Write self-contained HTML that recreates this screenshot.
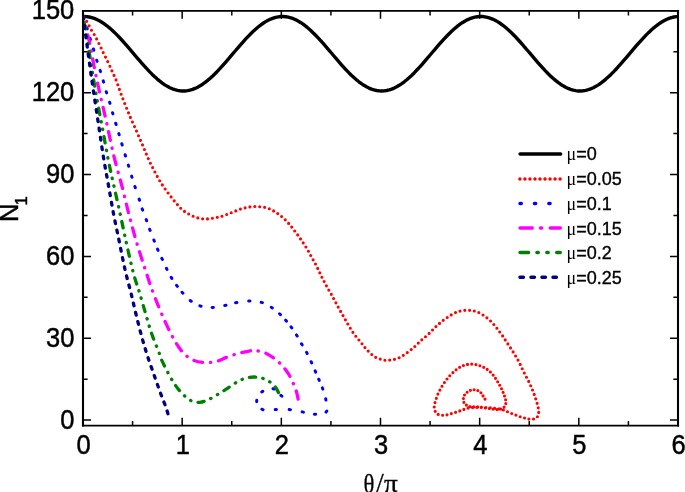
<!DOCTYPE html>
<html><head><meta charset="utf-8"><title>N1 vs theta</title>
<style>html,body{margin:0;padding:0;background:#fff}svg{display:block}text{font-family:"Liberation Sans",sans-serif;fill:#000}.s{font-family:"Liberation Serif",serif}</style></head><body>
<svg width="685" height="492" viewBox="0 0 685 492">
<rect width="685" height="492" fill="#fff"/>
<defs><clipPath id="c"><rect x="82.60" y="10.80" width="595.80" height="414.90"/></clipPath></defs>
<g fill="none" stroke-linejoin="round" clip-path="url(#c)">
<path d="M79.14 16.96L81.66 16.61L84.18 16.50L86.70 16.63L89.22 16.99L91.74 17.59L94.26 18.41L96.79 19.47L99.31 20.74L101.83 22.22L104.35 23.90L106.87 25.78L109.39 27.83L111.91 30.04L114.43 32.41L116.95 34.91L119.47 37.54L121.99 40.26L124.51 43.08L127.03 45.96L129.55 48.89L132.07 51.85L134.59 54.82L137.11 57.79L139.63 60.73L142.15 63.63L144.67 66.46L147.19 69.21L149.72 71.87L152.24 74.40L154.76 76.81L157.28 79.07L159.80 81.17L162.32 83.09L164.84 84.83L167.36 86.37L169.88 87.70L172.40 88.81L174.92 89.71L177.44 90.37L179.96 90.80L182.48 90.99L185.00 90.94L187.52 90.66L190.04 90.14L192.56 89.40L195.08 88.42L197.60 87.22L200.12 85.81L202.65 84.20L205.17 82.39L207.69 80.40L210.21 78.24L212.73 75.92L215.25 73.46L217.77 70.88L220.29 68.18L222.81 65.40L225.33 62.54L227.85 59.63L230.37 56.67L232.89 53.70L235.41 50.73L237.93 47.78L240.45 44.86L242.97 42.01L245.49 39.23L248.01 36.54L250.53 33.96L253.06 31.50L255.58 29.19L258.10 27.03L260.62 25.05L263.14 23.25L265.66 21.64L268.18 20.23L270.70 19.04L273.22 18.08L275.74 17.33L278.26 16.83L280.78 16.55L283.30 16.51L285.82 16.71L288.34 17.15L290.86 17.82L293.38 18.72L295.90 19.84L298.42 21.18L300.94 22.72L303.46 24.47L305.99 26.40L308.51 28.50L311.03 30.77L313.55 33.18L316.07 35.72L318.59 38.38L321.11 41.13L323.63 43.97L326.15 46.87L328.67 49.81L331.19 52.77L333.71 55.75L336.23 58.71L338.75 61.64L341.27 64.52L343.79 67.33L346.31 70.05L348.83 72.67L351.35 75.17L353.87 77.53L356.40 79.74L358.92 81.79L361.44 83.65L363.96 85.33L366.48 86.81L369.00 88.07L371.52 89.12L374.04 89.94L376.56 90.53L379.08 90.88L381.60 91.00L384.12 90.88L386.64 90.53L389.16 89.94L391.68 89.12L394.20 88.07L396.72 86.81L399.24 85.33L401.76 83.65L404.28 81.79L406.80 79.74L409.33 77.53L411.85 75.17L414.37 72.67L416.89 70.05L419.41 67.33L421.93 64.52L424.45 61.64L426.97 58.71L429.49 55.75L432.01 52.77L434.53 49.81L437.05 46.87L439.57 43.97L442.09 41.13L444.61 38.38L447.13 35.72L449.65 33.18L452.17 30.77L454.69 28.50L457.21 26.40L459.74 24.47L462.26 22.72L464.78 21.18L467.30 19.84L469.82 18.72L472.34 17.82L474.86 17.15L477.38 16.71L479.90 16.51L482.42 16.55L484.94 16.83L487.46 17.33L489.98 18.08L492.50 19.04L495.02 20.23L497.54 21.64L500.06 23.25L502.58 25.05L505.10 27.03L507.62 29.19L510.14 31.50L512.67 33.96L515.19 36.54L517.71 39.23L520.23 42.01L522.75 44.86L525.27 47.78L527.79 50.73L530.31 53.70L532.83 56.67L535.35 59.63L537.87 62.54L540.39 65.40L542.91 68.18L545.43 70.88L547.95 73.46L550.47 75.92L552.99 78.24L555.51 80.40L558.03 82.39L560.55 84.20L563.07 85.81L565.60 87.22L568.12 88.42L570.64 89.40L573.16 90.14L575.68 90.66L578.20 90.94L580.72 90.99L583.24 90.80L585.76 90.37L588.28 89.71L590.80 88.81L593.32 87.70L595.84 86.37L598.36 84.83L600.88 83.09L603.40 81.17L605.92 79.07L608.44 76.81L610.96 74.40L613.48 71.87L616.01 69.21L618.53 66.46L621.05 63.63L623.57 60.73L626.09 57.79L628.61 54.82L631.13 51.85L633.65 48.89L636.17 45.96L638.69 43.08L641.21 40.26L643.73 37.54L646.25 34.91L648.77 32.41L651.29 30.04L653.81 27.83L656.33 25.78L658.85 23.90L661.37 22.22L663.89 20.74L666.41 19.47L668.94 18.41L671.46 17.59L673.98 16.99L676.50 16.63L679.02 16.50L681.54 16.61L684.06 16.96" stroke="#000" stroke-width="3.4"/>
<path d="M83.7 17.2h.01M86.7 21.3h.01M89.1 25.8h.01M91.5 30.2h.01M94.2 34.5h.01M96.6 38.9h.01M98.9 43.5h.01M101.1 48.0h.01M103.2 52.6h.01M105.5 57.1h.01M107.7 61.6h.01M109.9 66.2h.01M111.9 70.8h.01M114.0 75.4h.01M116.0 79.9h.01M117.8 84.7h.01M119.4 89.4h.01M121.1 94.2h.01M122.9 98.8h.01M124.7 103.5h.01M126.6 108.2h.01M128.5 112.8h.01M130.4 117.4h.01M132.4 122.0h.01M134.5 126.6h.01M136.5 131.1h.01M138.5 135.7h.01M140.5 140.3h.01M142.5 144.9h.01M144.4 149.5h.01M146.3 154.1h.01M148.3 158.6h.01M150.4 163.2h.01M152.6 167.6h.01M154.9 172.0h.01M157.2 176.4h.01M159.7 180.7h.01M162.3 184.9h.01M165.1 189.0h.01M168.1 193.0h.01M171.1 196.9h.01M174.2 200.8h.01M177.4 204.6h.01M180.7 208.2h.01M184.5 211.4h.01M188.7 214.0h.01M193.1 216.2h.01M197.8 217.9h.01M202.6 218.8h.01M207.5 218.9h.01M212.4 218.2h.01M217.3 217.3h.01M222.0 216.2h.01M226.7 214.5h.01M231.2 212.7h.01M235.8 210.9h.01M240.4 209.1h.01M245.1 207.8h.01M249.9 206.9h.01M254.8 206.5h.01M259.7 206.7h.01M264.6 207.3h.01M269.3 208.7h.01M273.6 210.9h.01M277.7 213.6h.01M281.6 216.5h.01M285.2 219.8h.01M288.6 223.4h.01M291.7 227.1h.01M294.7 231.0h.01M297.7 234.9h.01M300.5 238.9h.01M303.2 242.9h.01M305.9 247.0h.01M308.4 251.2h.01M310.7 255.5h.01M313.1 259.8h.01M315.5 264.0h.01M317.7 268.4h.01M319.8 272.8h.01M321.9 277.2h.01M324.1 281.5h.01M326.4 285.8h.01M328.8 290.1h.01M331.3 294.3h.01M333.6 298.5h.01M335.9 302.8h.01M338.2 307.1h.01M340.6 311.4h.01M343.0 315.6h.01M345.4 319.8h.01M347.8 324.0h.01M350.3 328.2h.01M352.9 332.3h.01M355.8 336.2h.01M358.9 340.0h.01M362.0 343.7h.01M364.9 347.6h.01M368.2 351.1h.01M371.8 354.5h.01M375.7 357.3h.01M380.2 359.1h.01M384.9 360.2h.01M389.7 360.1h.01M394.5 359.3h.01M399.1 357.7h.01M403.3 355.3h.01M407.3 352.6h.01M411.2 349.6h.01M414.8 346.5h.01M418.3 343.1h.01M421.8 339.8h.01M425.5 336.7h.01M429.1 333.4h.01M432.5 330.0h.01M435.9 326.6h.01M439.5 323.4h.01M443.2 320.3h.01M447.2 317.5h.01M451.2 314.9h.01M455.5 312.6h.01M460.0 311.1h.01M464.8 310.3h.01M469.6 310.3h.01M474.3 311.0h.01M478.8 312.6h.01M483.0 315.0h.01M486.9 317.8h.01M490.5 321.0h.01M493.8 324.5h.01M496.9 328.2h.01M499.7 332.0h.01M502.6 335.9h.01M505.2 339.9h.01M507.9 343.9h.01M510.5 347.9h.01M513.1 351.9h.01M515.6 356.0h.01M518.0 360.1h.01M520.2 364.4h.01M522.2 368.7h.01M524.3 373.0h.01M526.5 377.2h.01M528.7 381.4h.01M530.7 385.7h.01M532.5 390.0h.01M534.2 394.4h.01M535.7 398.8h.01M537.1 403.3h.01M538.2 407.8h.01M538.7 412.4h.01M537.4 416.7h.01M533.5 419.0h.01M528.9 419.1h.01M524.5 418.0h.01M520.2 416.7h.01M515.9 415.1h.01M511.7 413.5h.01M507.5 411.7h.01M503.4 410.0h.01M499.0 408.9h.01M494.6 408.2h.01M490.2 407.8h.01M485.8 407.5h.01M481.3 407.4h.01M476.9 407.4h.01M472.5 407.6h.01M468.1 408.1h.01M463.9 409.4h.01M459.8 410.9h.01M455.6 412.3h.01M451.3 413.6h.01M447.0 414.8h.01M442.6 415.2h.01M438.2 414.4h.01M435.2 411.3h.01M434.2 407.0h.01M435.0 402.6h.01M436.3 398.3h.01M437.9 394.1h.01M439.9 390.1h.01M442.0 386.2h.01M444.4 382.5h.01M447.0 379.0h.01M449.8 375.7h.01M452.9 372.6h.01M456.1 369.8h.01M459.6 367.3h.01M463.4 365.5h.01M467.5 364.4h.01M471.7 364.1h.01M475.9 364.6h.01M479.9 365.7h.01M483.7 367.3h.01M487.2 369.4h.01M490.4 372.0h.01M493.1 375.1h.01M495.5 378.3h.01M497.7 381.7h.01M499.7 385.2h.01M501.5 388.7h.01M503.1 392.3h.01M504.5 396.0h.01M505.6 399.7h.01M505.8 403.6h.01M504.1 407.1h.01M500.8 409.1h.01M497.0 409.6h.01M493.1 409.1h.01M489.3 408.5h.01M485.4 407.9h.01M481.5 407.3h.01M477.7 406.9h.01M473.8 406.9h.01M469.9 406.6h.01M466.4 405.1h.01M463.9 402.3h.01M463.4 398.5h.01M464.5 395.0h.01M467.1 392.2h.01M470.4 390.3h.01M474.1 389.7h.01M477.8 390.6h.01M480.9 392.7h.01M483.0 395.9h.01M485.0 399.1h.01" stroke="#ff0000" stroke-width="3.15" stroke-linecap="round"/>
<path d="M83.61 16.88l0.38 1.24M86.91 27.68l0.37 1.25M90.01 38.28l0.38 1.24M93.41 48.98l0.38 1.24M96.71 60.18l0.39 1.24M100.11 70.38l0.39 1.24M103.22 80.88l0.36 1.25M106.21 91.68l0.37 1.25M109.61 102.18l0.37 1.25M112.52 112.68l0.36 1.25M115.71 123.28l0.38 1.24M118.81 133.58l0.37 1.25M121.81 143.78l0.37 1.25M125.11 154.78l0.38 1.24M128.31 165.08l0.38 1.24M131.61 176.08l0.38 1.24M134.90 186.48l0.40 1.24M139.10 199.08l0.40 1.24M142.19 208.89l0.43 1.23M146.17 219.59l0.45 1.22M149.67 229.19l0.46 1.22M153.86 240.00l0.48 1.21M157.54 249.10l0.52 1.19M161.83 258.31l0.55 1.18M166.41 268.22l0.58 1.16M171.16 277.24l0.67 1.11M176.61 285.28l0.77 1.05M182.06 292.22l0.87 0.96M190.18 300.51l1.05 0.77M199.88 305.82l1.25 0.37M212.05 307.42l1.30 -0.03M224.76 305.53l1.27 -0.25M235.56 302.82l1.28 -0.23M248.65 301.11l1.30 -0.01M261.18 302.32l1.25 0.36M271.25 307.25l1.09 0.70M279.52 313.76l0.96 0.88M285.68 320.21l0.85 0.98M291.02 326.87l0.76 1.05M296.46 334.95l0.68 1.11M301.47 343.74l0.65 1.12M306.59 352.33l0.61 1.15M311.13 361.71l0.54 1.18M315.14 370.90l0.52 1.19M318.75 379.20l0.51 1.20M322.39 387.89l0.43 1.23M325.69 398.76l0.21 1.28M326.78 411.07l-0.77 1.05M315.65 414.19l-1.30 0.02M303.44 412.12l-1.28 -0.23M290.45 409.66l-1.29 -0.12M276.45 409.50l-1.30 -0.00M263.09 409.76l-1.19 -0.53M256.71 401.65l-0.01 -1.30M261.77 391.98l1.05 -0.76M272.96 388.66l1.27 0.27M280.91 395.27l0.97 0.86" stroke="#0000ff" stroke-width="3.0" stroke-linecap="round"/>
<path d="M83.00 16.50C84.03 20.57 87.32 32.40 89.20 40.90C91.08 49.40 92.57 58.90 94.30 67.50C96.03 76.10 97.55 83.30 99.60 92.50C101.65 101.70 104.25 112.22 106.60 122.70C108.95 133.18 111.15 144.85 113.70 155.40C116.25 165.95 119.35 176.12 121.90 186.00C124.45 195.88 126.62 205.53 129.00 214.70C131.38 223.87 133.80 232.78 136.20 241.00C138.60 249.22 141.53 258.17 143.40 264.00C145.27 269.83 146.05 271.93 147.40 276.00C148.75 280.07 149.62 283.27 151.50 288.40C153.38 293.53 156.32 301.02 158.70 306.80C161.08 312.58 163.25 317.65 165.80 323.10C168.35 328.55 171.27 334.73 174.00 339.50C176.73 344.27 179.30 348.40 182.20 351.70C185.10 355.00 188.00 357.52 191.40 359.30C194.80 361.08 198.52 362.02 202.60 362.40C206.68 362.78 211.95 362.43 215.90 361.60C219.85 360.77 222.53 358.78 226.30 357.40C230.07 356.02 234.75 354.33 238.50 353.30C242.25 352.27 246.27 351.68 248.80 351.20C251.33 350.72 251.18 350.18 253.70 350.40C256.22 350.62 260.67 351.30 263.90 352.50C267.13 353.70 270.20 355.57 273.10 357.60C276.00 359.63 278.73 361.98 281.30 364.70C283.87 367.42 286.45 370.65 288.50 373.90C290.55 377.15 292.25 381.13 293.60 384.20C294.95 387.27 295.85 389.82 296.60 392.30C297.35 394.78 297.85 397.97 298.10 399.10" stroke="#ff00ff" stroke-width="3.3" stroke-dasharray="8.8 7.8 0.4 7.8" stroke-dashoffset="6" stroke-linecap="round"/>
<path d="M83.00 16.50C83.52 19.20 84.55 23.52 86.10 32.70C87.65 41.88 90.52 60.68 92.30 71.60C94.08 82.52 95.10 88.67 96.80 98.20C98.50 107.73 100.53 118.25 102.50 128.80C104.47 139.35 106.73 152.13 108.60 161.50C110.47 170.87 111.82 176.47 113.70 185.00C115.58 193.53 117.85 203.32 119.90 212.70C121.95 222.08 124.13 232.78 126.00 241.30C127.87 249.82 129.63 257.67 131.10 263.80C132.57 269.93 133.43 273.40 134.80 278.10C136.17 282.80 137.53 286.20 139.30 292.00C141.07 297.80 143.37 306.02 145.40 312.90C147.43 319.78 149.28 326.83 151.50 333.30C153.72 339.77 157.13 347.52 158.70 351.70C160.27 355.88 159.35 354.90 160.90 358.40C162.45 361.90 165.62 368.27 168.00 372.70C170.38 377.13 172.63 381.32 175.20 385.00C177.77 388.68 180.68 392.15 183.40 394.80C186.12 397.45 188.78 399.65 191.50 400.90C194.22 402.15 196.97 402.47 199.70 402.30C202.43 402.13 204.83 401.25 207.90 399.90C210.97 398.55 214.70 396.22 218.10 394.20C221.50 392.18 224.92 389.98 228.30 387.80C231.68 385.62 235.35 382.73 238.40 381.10C241.45 379.47 243.88 378.68 246.60 378.00C249.32 377.32 251.98 376.93 254.70 377.00C257.42 377.07 260.33 377.55 262.90 378.40C265.47 379.25 267.88 380.47 270.10 382.10C272.32 383.73 274.55 385.80 276.20 388.20C277.85 390.60 279.28 394.70 280.00 396.50C280.72 398.30 280.42 398.58 280.50 399.00" stroke="#008000" stroke-width="3.3" stroke-dasharray="6.3 7.2 0.4 7.3 0.4 7.3" stroke-dashoffset="-6.5" stroke-linecap="round"/>
<path d="M83.00 16.50C83.35 18.87 84.07 23.23 85.10 30.70C86.13 38.17 87.83 51.42 89.20 61.30C90.57 71.18 91.77 79.60 93.30 90.00C94.83 100.40 96.70 112.47 98.40 123.70C100.10 134.93 101.80 147.00 103.50 157.40C105.20 167.80 106.90 176.55 108.60 186.10C110.30 195.65 112.00 205.83 113.70 214.70C115.40 223.57 117.27 231.80 118.80 239.30C120.33 246.80 121.65 253.75 122.90 259.70C124.15 265.65 124.93 269.37 126.30 275.00C127.67 280.63 129.45 286.83 131.10 293.50C132.75 300.17 134.42 307.75 136.20 315.00C137.98 322.25 139.92 330.17 141.80 337.00C143.68 343.83 145.35 349.37 147.50 356.00C149.65 362.63 152.47 370.43 154.70 376.80C156.93 383.17 159.02 389.10 160.90 394.20C162.78 399.30 164.75 403.83 166.00 407.40C167.25 410.97 168.00 414.23 168.40 415.60" stroke="#000080" stroke-width="3.3" stroke-dasharray="2.7 6.7" stroke-dashoffset="0" stroke-linecap="round"/>
</g>
<g stroke="#000" fill="none">
<path d="M83.00 9.95V426.55M678.00 9.95V426.55" stroke-width="2.1"/>
<path d="M81.95 10.80H679.05M81.95 425.70H679.05" stroke-width="1.7"/>
<path d="M83.00 425.70v-8.00M83.00 10.80v8.00M132.58 425.70v-4.60M132.58 10.80v4.60M182.17 425.70v-8.00M182.17 10.80v8.00M231.75 425.70v-4.60M231.75 10.80v4.60M281.33 425.70v-8.00M281.33 10.80v8.00M330.92 425.70v-4.60M330.92 10.80v4.60M380.50 425.70v-8.00M380.50 10.80v8.00M430.08 425.70v-4.60M430.08 10.80v4.60M479.67 425.70v-8.00M479.67 10.80v8.00M529.25 425.70v-4.60M529.25 10.80v4.60M578.83 425.70v-8.00M578.83 10.80v8.00M628.42 425.70v-4.60M628.42 10.80v4.60M678.00 425.70v-8.00M678.00 10.80v8.00M83.00 420.10h8.00M678.00 420.10h-8.00M83.00 379.17h4.60M678.00 379.17h-4.60M83.00 338.24h8.00M678.00 338.24h-8.00M83.00 297.31h4.60M678.00 297.31h-4.60M83.00 256.38h8.00M678.00 256.38h-8.00M83.00 215.45h4.60M678.00 215.45h-4.60M83.00 174.52h8.00M678.00 174.52h-8.00M83.00 133.59h4.60M678.00 133.59h-4.60M83.00 92.66h8.00M678.00 92.66h-8.00M83.00 51.73h4.60M678.00 51.73h-4.60M83.00 10.80h8.00M678.00 10.80h-8.00" stroke-width="1.5"/>
</g>
<g font-size="25.5" stroke="#000" stroke-width="0.45">
<text transform="translate(74.3,428.70) scale(1,1.050)" text-anchor="end">0</text>
<text transform="translate(74.3,346.84) scale(1,1.050)" text-anchor="end">30</text>
<text transform="translate(74.3,264.98) scale(1,1.050)" text-anchor="end">60</text>
<text transform="translate(74.3,183.12) scale(1,1.050)" text-anchor="end">90</text>
<text transform="translate(74.3,101.26) scale(1,1.050)" text-anchor="end">120</text>
<text transform="translate(74.3,19.40) scale(1,1.050)" text-anchor="end">150</text>
<text transform="translate(83.60,454.1) scale(1,1.050)" text-anchor="middle">0</text>
<text transform="translate(182.77,454.1) scale(1,1.050)" text-anchor="middle">1</text>
<text transform="translate(281.93,454.1) scale(1,1.050)" text-anchor="middle">2</text>
<text transform="translate(381.10,454.1) scale(1,1.050)" text-anchor="middle">3</text>
<text transform="translate(480.27,454.1) scale(1,1.050)" text-anchor="middle">4</text>
<text transform="translate(579.43,454.1) scale(1,1.050)" text-anchor="middle">5</text>
<text transform="translate(678.60,454.1) scale(1,1.050)" text-anchor="middle">6</text>
</g>
<g stroke="#000" stroke-width="0.3"><text class="s" transform="translate(363.4,493) scale(0.83,1)" font-size="27.5">θ</text><text class="s" x="376.2" y="491.5" font-size="26.9">/</text><text class="s" transform="translate(383.9,491.5) scale(1.08,1)" font-size="25.3">π</text></g>
<text transform="translate(18.4,222) rotate(-90)" font-size="25.5" stroke="#000" stroke-width="0.45">N<tspan font-size="17" dy="8.2" dx="-1.8">1</tspan></text>
<path d="M520.10 153.90H560.60" stroke="#000" stroke-width="3.5" stroke-linecap="round" fill="none"/>
<text x="566.6" y="160.30" font-size="18" stroke="#000" stroke-width="0.35"><tspan class="s" stroke="none">μ</tspan>=0</text>
<path d="M519.90 178.90H560.10" stroke="#ff0000" stroke-width="3.5" stroke-linecap="round" fill="none" stroke-dasharray="0.01 5.01"/>
<text x="566.6" y="185.30" font-size="18" stroke="#000" stroke-width="0.35"><tspan class="s" stroke="none">μ</tspan>=0.05</text>
<path d="M520.05 203.40H550.10" stroke="#0000ff" stroke-width="3.5" stroke-linecap="round" fill="none" stroke-dasharray="1.2 13.2"/>
<text x="566.6" y="209.80" font-size="18" stroke="#000" stroke-width="0.35"><tspan class="s" stroke="none">μ</tspan>=0.1</text>
<path d="M520.05 228.10H560.25" stroke="#ff00ff" stroke-width="3.5" stroke-linecap="round" fill="none" stroke-dasharray="12.1 8.3 1.2 8.6"/>
<text x="566.6" y="234.50" font-size="18" stroke="#000" stroke-width="0.35"><tspan class="s" stroke="none">μ</tspan>=0.15</text>
<path d="M520.05 252.50H560.25" stroke="#008000" stroke-width="3.5" stroke-linecap="round" fill="none" stroke-dasharray="8.5 8.4 1.3 8.6 1.3 8.6"/>
<text x="566.6" y="258.90" font-size="18" stroke="#000" stroke-width="0.35"><tspan class="s" stroke="none">μ</tspan>=0.2</text>
<path d="M520.00 277.30H556.50" stroke="#000080" stroke-width="3.5" stroke-linecap="round" fill="none" stroke-dasharray="3.4 7.6"/>
<text x="566.6" y="283.70" font-size="18" stroke="#000" stroke-width="0.35"><tspan class="s" stroke="none">μ</tspan>=0.25</text>
</svg></body></html>
